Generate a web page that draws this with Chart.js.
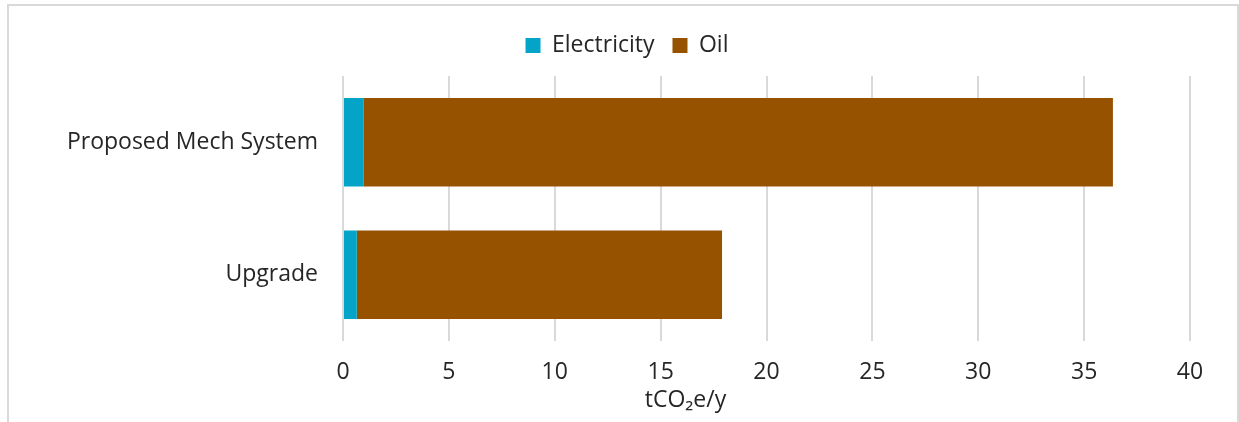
<!DOCTYPE html>
<html>
<head>
<meta charset="utf-8">
<style>
  html, body { margin: 0; padding: 0; background: #ffffff; }
  #wrap { width: 1239px; height: 422px; position: relative; }
</style>
<script src="https://cdn.jsdelivr.net/npm/chart.js@4/dist/chart.umd.min.js"></script>
</head>
<body>
<div id="wrap"><canvas id="chart" width="1239" height="422"></canvas></div>
<script>
// Emissions by scenario, tonnes CO2e per year
const categories = ['Proposed Mech System', 'Upgrade'];
const electricity = [0.96, 0.65];
const oil = [35.4, 17.25];
const xTicks = [0, 5, 10, 15, 20, 25, 30, 35, 40];
const axisTitle = 'tCO\u2082e/y';

const FONT = '"Open Sans", "Noto Sans", sans-serif';
const FONT_SIZE = 23;
const TEXT = '#262626';
const GRID = '#d9d9d9';

// Light frame around the chart
const framePlugin = {
  id: 'frame',
  beforeDraw(chart) {
    const ctx = chart.ctx;
    ctx.save();
    ctx.fillStyle = '#ffffff';
    ctx.fillRect(0, 0, chart.width, chart.height);
    ctx.strokeStyle = GRID;
    ctx.lineWidth = 2;
    ctx.strokeRect(8, 5, chart.width - 9, chart.height + 20);
    ctx.restore();
  }
};

// Extra space below the legend, and legend centred on the whole frame
const legendPlacePlugin = {
  id: 'legendPlace',
  beforeLayout(chart) {
    const lg = chart.legend;
    if (lg && !lg._gapAdded) {
      const fit = lg.fit;
      lg.fit = function () {
        fit.call(this);
        this.height += 9;
      };
      lg._gapAdded = true;
    }
  },
  afterLayout(chart) {
    const lg = chart.legend;
    if (lg) {
      lg.left += 54;
      lg.width = lg.right - lg.left;
    }
  }
};

// Axis title placed beneath the tick labels
const axisTitlePlugin = {
  id: 'axisTitle',
  afterDraw(chart) {
    const ctx = chart.ctx;
    const area = chart.chartArea;
    ctx.save();
    ctx.font = FONT_SIZE + 'px ' + FONT;
    ctx.fillStyle = TEXT;
    ctx.textAlign = 'center';
    ctx.textBaseline = 'middle';
    ctx.fillText(axisTitle, (area.left + area.right) / 2 - 81, 400);
    ctx.restore();
  }
};

new Chart(document.getElementById('chart'), {
  type: 'bar',
  data: {
    labels: categories,
    datasets: [
      { label: 'Electricity', data: electricity, backgroundColor: '#03a4c8', borderWidth: 0 },
      { label: 'Oil', data: oil, backgroundColor: '#975200', borderWidth: 0 }
    ]
  },
  options: {
    indexAxis: 'y',
    responsive: false,
    animation: false,
    devicePixelRatio: 1,
    barPercentage: 0.667,
    categoryPercentage: 1.0,
    layout: { padding: { top: 16, left: 10, right: 49, bottom: 0 } },
    plugins: {
      legend: {
        position: 'top',
        labels: {
          boxWidth: 15,
          boxHeight: 15,
          padding: 18,
          color: TEXT,
          font: { family: FONT, size: FONT_SIZE }
        }
      },
      tooltip: { enabled: false }
    },
    scales: {
      x: {
        stacked: true,
        min: 0,
        max: 40,
        afterBuildTicks(scale) { scale.ticks = xTicks.map(v => ({ value: v })); },
        afterFit(scale) { scale.height = 81; },
        ticks: { color: TEXT, padding: 18, font: { family: FONT, size: FONT_SIZE } },
        grid: { color: GRID, lineWidth: 2, drawTicks: false },
        border: { display: false }
      },
      y: {
        stacked: true,
        afterFit(scale) { scale.width = 333; },
        ticks: { color: TEXT, padding: 25, font: { family: FONT, size: FONT_SIZE } },
        grid: { display: false, drawTicks: false },
        border: { display: false }
      }
    }
  },
  plugins: [framePlugin, legendPlacePlugin, axisTitlePlugin]
});
</script>
</body>
</html>
